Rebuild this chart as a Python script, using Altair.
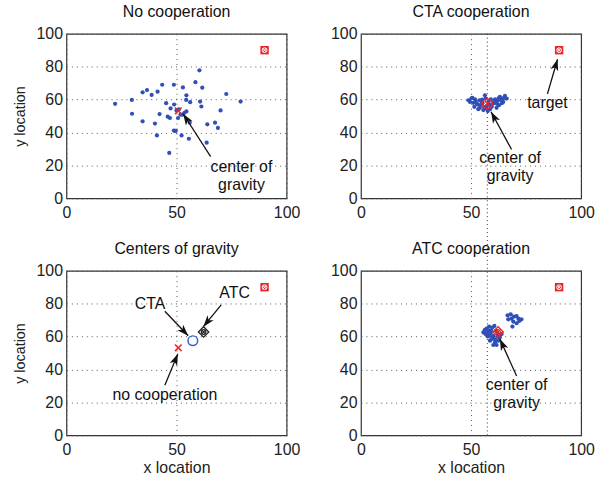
import math
import altair as alt
import pandas as pd

FONT = "Liberation Sans"
W, H = 222, 166
RED = "#e8262b"
BLUE = "#3050b8"
FS = 16

# ---------------- data ----------------
nc_x = [22.1, 29.7, 29.8, 34.6, 34.6, 36.6, 38.7, 41.4, 43.5, 40.2, 41.1, 42.3, 45.3, 47.3, 46.0, 47.0,
        48.8, 48.9, 48.8, 49.7, 46.7, 51.0, 50.7, 52.3, 52.9, 54.5, 54.4, 56.2, 54.5, 53.6, 52.7, 56.0,
        55.6, 58.6, 60.4, 61.7, 60.7, 61.3, 64.0, 63.7, 67.5, 68.8, 70.0, 72.6, 79.1, 50.0, 51.8, 49.2]
nc_y = [57.4, 59.8, 51.4, 46.8, 64.4, 65.8, 62.8, 64.8, 69.0, 45.4, 38.2, 51.2, 57.8, 54.6, 49.6, 48.8,
        69.0, 57.0, 41.2, 41.0, 27.6, 54.0, 48.8, 38.2, 67.4, 62.6, 59.8, 58.4, 52.8, 52.0, 50.8, 46.0,
        36.2, 70.6, 77.8, 67.2, 58.8, 55.8, 45.0, 33.8, 46.0, 42.8, 53.4, 63.4, 58.8, 53.4, 50.8, 41.0]

cta_x = [48.8, 49.5, 50.6, 51.8, 52.6, 51.5, 53.3, 54.1, 54.8, 56.3, 56.6, 55.6, 57.6, 58.6, 60.1, 60.9,
         62.1, 63.1, 64.2, 65.4, 66.2, 64.6, 62.7, 61.6, 59.4, 50.2, 52.0, 53.8, 55.2, 54.0, 56.0, 57.2,
         58.0, 59.0, 60.5, 61.8, 63.5, 65.0, 62.5, 57.0, 53.0, 51.0, 55.0, 58.5, 61.0, 64.0]
cta_y = [59.6, 58.6, 61.0, 60.2, 57.6, 55.6, 54.2, 56.6, 59.0, 62.6, 60.6, 53.6, 53.0, 54.2, 57.6, 60.2,
         59.4, 61.6, 60.6, 62.2, 60.6, 58.6, 56.6, 55.0, 55.6, 60.8, 58.8, 59.6, 57.8, 55.0, 55.4, 56.2,
         58.8, 60.2, 59.0, 57.4, 59.8, 61.0, 60.8, 54.6, 57.0, 58.0, 60.0, 56.8, 58.4, 57.8]

atc_x = [55.6, 56.3, 57.1, 57.9, 58.6, 59.4, 60.1, 60.9, 61.6, 62.4, 63.1, 62.1, 60.6, 59.7, 58.2, 56.6,
         57.6, 59.0, 61.3, 63.9, 60.1, 58.6, 57.0, 58.0, 60.0, 61.0, 56.0, 59.0, 62.0, 66.9, 66.6, 68.0,
         68.4, 69.5, 70.7, 71.5, 72.9, 71.9, 70.7, 68.8, 69.2]
atc_y = [62.5, 64.1, 64.9, 63.5, 60.5, 58.5, 59.5, 56.5, 54.9, 57.5, 59.5, 61.5, 66.5, 65.5, 66.1, 61.5,
         60.1, 62.5, 63.5, 61.5, 54.9, 57.5, 62.0, 61.0, 60.5, 58.0, 63.0, 63.8, 60.0, 70.5, 72.9, 73.5,
         70.9, 72.1, 72.5, 70.9, 70.5, 69.5, 68.1, 66.1, 69.1]

target = (90.0, 90.0)
nc_center = (50.8, 53.2)
cta_center = (57.4, 57.5)
atc_center = (62.3, 62.8)

titles = ["No cooperation", "CTA cooperation", "Centers of gravity", "ATC cooperation"]

# arrows: (tail_x, tail_y, head_x, head_y) per panel
arrows = [
    [(65.5, 25.4, 53.0, 51.4)],
    [(84.7, 63.5, 89.3, 84.5), (68.4, 29.7, 59.1, 52.6)],
    [(44.7, 75.4, 55.3, 60.5), (70.3, 79.3, 62.2, 66.0), (44.7, 30.5, 50.6, 49.5)],
    [(70.7, 36.1, 63.1, 58.5)],
]
# labels: (x, y, text) per panel
labels = [
    [(79.5, 19.0, "center of"), (79.5, 8.3, "gravity")],
    [(84.7, 58.0, "target"), (67.7, 24.3, "center of"), (67.7, 13.3, "gravity")],
    [(38.0, 79.8, "CTA"), (76.4, 86.4, "ATC"), (44.7, 24.6, "no cooperation")],
    [(70.7, 30.5, "center of"), (70.7, 19.6, "gravity")],
]

# ---------------- helpers ----------------
XS = alt.Scale(domain=[0, 100], nice=False, zero=False)
YS = alt.Scale(domain=[0, 100], nice=False, zero=False)
XPATH = "M-1,-1L1,1M-1,1L1,-1"
HEAD = "M0,0L-0.8,2.3L0,1.7L0.8,2.3Z"


def xaxis(title):
    return alt.Axis(values=[0, 50, 100], grid=True, domain=False, ticks=False, labelPadding=6,
                    labelFlush=False, labelFontSize=FS, labelFont=FONT, labelColor="#222",
                    titleFont=FONT, titleFontSize=FS, titleFontWeight="normal", titleColor="#222",
                    titlePadding=2, title=title)


def yaxis(title):
    return alt.Axis(values=[0, 20, 40, 60, 80, 100], grid=True, domain=False, ticks=False, labelPadding=4,
                    labelFontSize=FS, labelFont=FONT, labelColor="#222",
                    titleFont=FONT, titleFontSize=14.5, titleFontWeight="normal", titleColor="#222",
                    titlePadding=9, title=title)


class Panel:
    def __init__(self, xt, yt):
        self.xa = xaxis(xt)
        self.ya = yaxis(yt)

    def enc(self, xf="x", yf="y"):
        return dict(x=alt.X(f"{xf}:Q", scale=XS, axis=self.xa),
                    y=alt.Y(f"{yf}:Q", scale=YS, axis=self.ya))

    def one(self, xy):
        return pd.DataFrame({"x": [xy[0]], "y": [xy[1]]})

    def target(self):
        d = self.one(target)
        return [
            alt.Chart(d).mark_point(shape="square", filled=True, color=RED, size=72, opacity=1).encode(**self.enc()),
            alt.Chart(d).mark_point(shape="circle", filled=False, color="white", size=22, strokeWidth=1, opacity=1).encode(**self.enc()),
            alt.Chart(d).mark_point(shape=XPATH, filled=False, color="white", size=12, strokeWidth=1, opacity=1).encode(**self.enc()),
        ]

    def xmark(self, xy, color, size, sw=1.5):
        return alt.Chart(self.one(xy)).mark_point(shape=XPATH, filled=False, color=color, size=size,
                                                  strokeWidth=sw, opacity=1).encode(**self.enc())

    def circ(self, xy, color, size, sw=1.5):
        return alt.Chart(self.one(xy)).mark_point(shape="circle", filled=False, color=color, size=size,
                                                  strokeWidth=sw, opacity=1).encode(**self.enc())

    def diamond(self, xy, color, size, sw=1.3):
        return alt.Chart(self.one(xy)).mark_point(shape="diamond", filled=False, color=color, size=size,
                                                  strokeWidth=sw, opacity=1).encode(**self.enc())

    def dots(self, xs, ys):
        d = pd.DataFrame({"x": xs, "y": ys})
        return alt.Chart(d).mark_circle(color=BLUE, size=18, opacity=1).encode(**self.enc())

    def arrows(self, arrs):
        rows = []
        for tx, ty, hx, hy in arrs:
            dx = (hx - tx) * W / 100.0
            dy = -(hy - ty) * H / 100.0
            ang = math.degrees(math.atan2(dx, -dy)) % 360
            rows.append({"x": tx, "y": ty, "x2": hx, "y2": hy, "hx": hx, "hy": hy, "ang": ang})
        d = pd.DataFrame(rows)
        line = alt.Chart(d).mark_rule(color="#111", strokeWidth=1.3).encode(
            **self.enc(), x2="x2:Q", y2="y2:Q")
        head = alt.Chart(d).mark_point(shape=HEAD, filled=True, color="#111", size=100, opacity=1).encode(
            **self.enc("hx", "hy"), angle=alt.Angle("ang:Q", scale=None))
        return [line, head]

    def text(self, lbls):
        d = pd.DataFrame({"x": [l[0] for l in lbls], "y": [l[1] for l in lbls], "t": [l[2] for l in lbls]})
        return alt.Chart(d).mark_text(font=FONT, fontSize=FS, color="#111", align="center",
                                      baseline="middle").encode(**self.enc(), text="t:N")

    def vline(self, y0, y1):
        d = pd.DataFrame({"x": [cta_center[0]], "y": [y0], "y2": [y1]})
        return alt.Chart(d).mark_rule(color="#333", strokeWidth=1, strokeDash=[1, 3]).encode(
            **self.enc(), y2="y2:Q")


def panel(i, layers):
    return alt.layer(*layers).properties(
        width=W, height=H,
        title=alt.TitleParams(titles[i], font=FONT, fontSize=FS, fontWeight="normal", color="#111", offset=6))


gap_units = 73 / H * 100

A = Panel(None, "y location")
p1 = panel(0, A.target() + [A.dots(nc_x, nc_y)] + A.arrows(arrows[0])
           + [A.xmark(nc_center, RED, 45), A.text(labels[0])])

B = Panel(None, None)
p2 = panel(1, [B.vline(100, -gap_units)] + B.target() + [B.dots(cta_x, cta_y)] + B.arrows(arrows[1])
           + [B.circ(cta_center, RED, 100), B.xmark(cta_center, RED, 30, 1.3), B.text(labels[1])])

C = Panel("x location", "y location")
p3 = panel(2, C.target() + C.arrows(arrows[2])
           + [C.xmark(nc_center, RED, 45), C.circ(cta_center, "#3a5fcf", 95),
              C.diamond(atc_center, "#222", 110), C.circ(atc_center, "#222", 22, 1.2),
              C.xmark(atc_center, "#222", 14, 1.2), C.text(labels[2])])

D = Panel("x location", None)
p4 = panel(3, [D.vline(0, 100)] + D.target() + [D.dots(atc_x, atc_y)] + D.arrows(arrows[3])
           + [D.diamond(atc_center, RED, 110), D.circ(atc_center, RED, 22, 1.2),
              D.xmark(atc_center, RED, 14, 1.2), D.text(labels[3])])

chart = alt.concat(p1, p2, p3, p4, columns=2, spacing={"row": 73, "column": 75}, bounds="flush").properties(
    padding={"left": 11, "top": 1, "right": 0, "bottom": 2}
).configure_view(stroke="#333", strokeWidth=1.2).configure_axis(
    gridDash=[1, 4], gridColor="#555", gridWidth=1, gridOpacity=1
)

chart.save("out.html", embed_options={"renderer": "svg", "actions": False})
